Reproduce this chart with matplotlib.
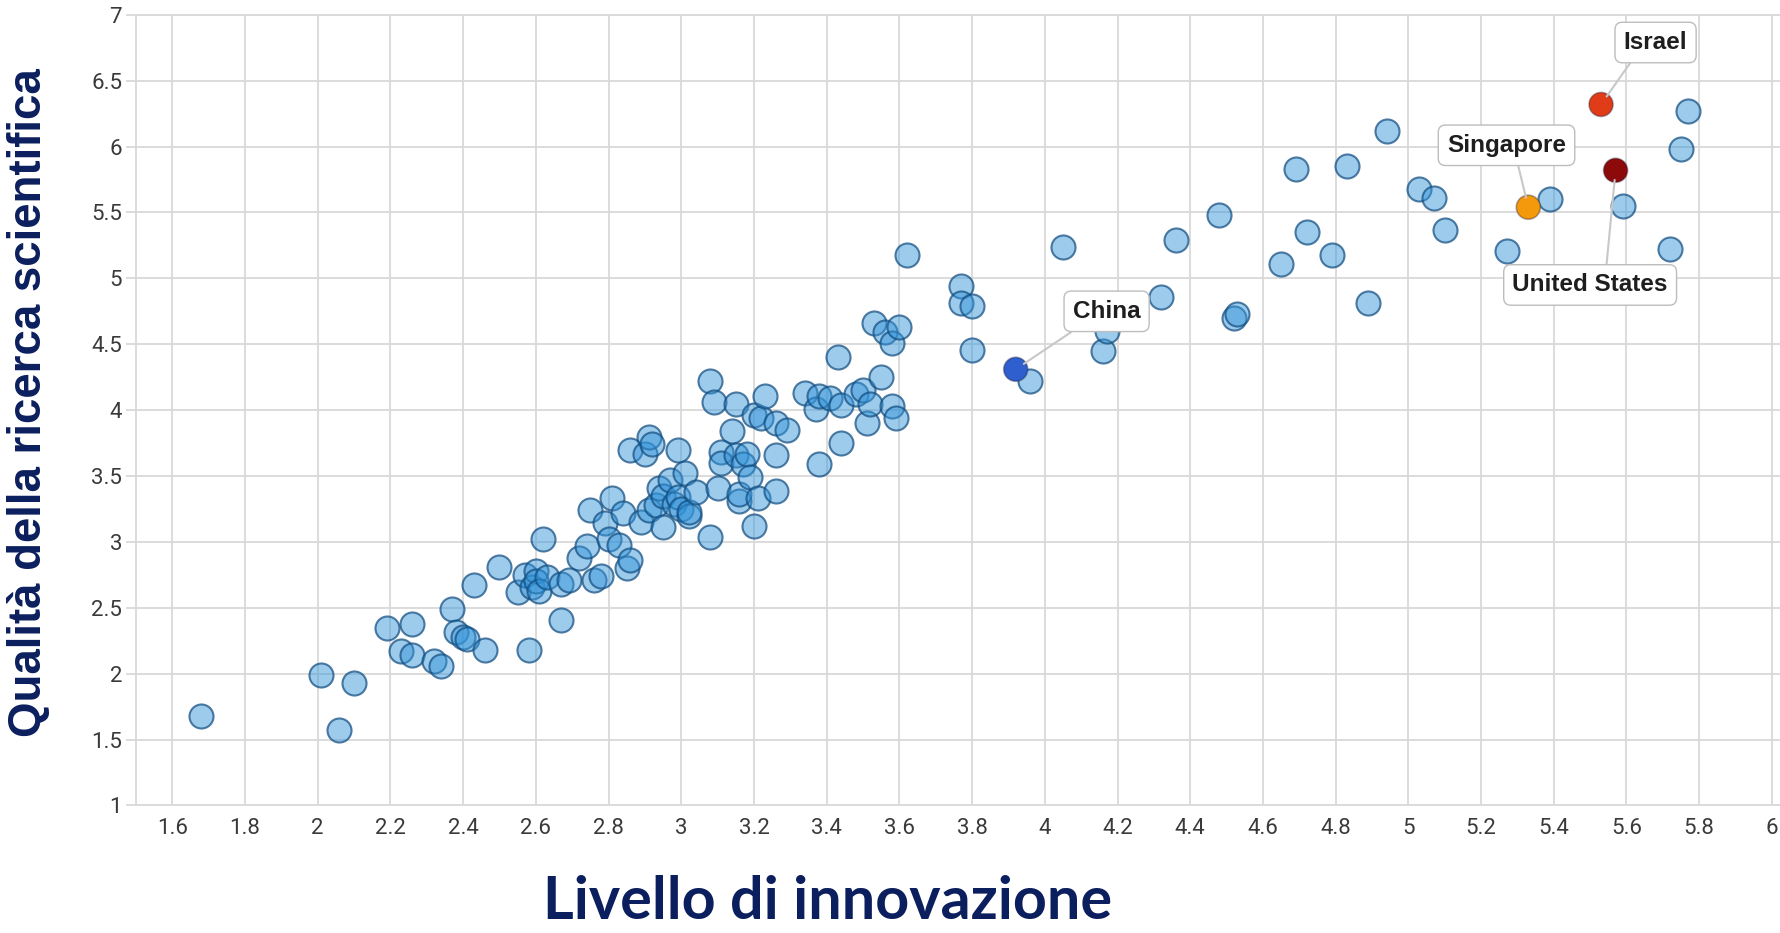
import matplotlib
matplotlib.use("Agg")
import matplotlib.pyplot as plt
from matplotlib import font_manager as fm

# ---------------- data ----------------
innovazione = [
    1.68, 2.01, 2.06, 2.10, 2.19, 2.23, 2.26, 2.26, 2.32, 2.34,
    2.37, 2.38, 2.40, 2.41, 2.43, 2.46, 2.50, 2.55, 2.57, 2.58,
    2.59, 2.60, 2.60, 2.61, 2.62, 2.63, 2.67, 2.67, 2.69, 2.72,
    2.74, 2.75, 2.76, 2.78, 2.79, 2.80, 2.81, 2.83, 2.84, 2.85,
    2.86, 2.86, 2.89, 2.90, 2.91, 2.91, 2.92, 2.93, 2.94, 2.95,
    2.95, 2.97, 2.98, 2.99, 2.99, 3.00, 3.01, 3.02, 3.02, 3.04,
    3.08, 3.08, 3.09, 3.10, 3.11, 3.11, 3.14, 3.15, 3.15, 3.16,
    3.16, 3.17, 3.18, 3.19, 3.20, 3.20, 3.21, 3.22, 3.23, 3.26,
    3.26, 3.26, 3.29, 3.34, 3.37, 3.38, 3.38, 3.41, 3.43, 3.44,
    3.44, 3.48, 3.50, 3.51, 3.52, 3.53, 3.55, 3.56, 3.58, 3.58,
    3.59, 3.60, 3.62, 3.77, 3.77, 3.80, 3.80, 3.96, 4.05, 4.16,
    4.17, 4.32, 4.36, 4.48, 4.52, 4.53, 4.65, 4.69, 4.72, 4.79,
    4.83, 4.89, 4.94, 5.03, 5.07, 5.10, 5.27, 5.39, 5.59, 5.72,
    5.75, 5.77,
]
qualita = [
    1.68, 1.99, 1.57, 1.93, 2.35, 2.17, 2.14, 2.38, 2.10, 2.06,
    2.49, 2.32, 2.28, 2.26, 2.67, 2.18, 2.81, 2.62, 2.75, 2.18,
    2.66, 2.78, 2.70, 2.63, 3.02, 2.73, 2.41, 2.68, 2.71, 2.88,
    2.97, 3.24, 2.71, 2.74, 3.14, 3.02, 3.33, 2.98, 3.22, 2.80,
    2.86, 3.70, 3.15, 3.67, 3.80, 3.24, 3.74, 3.28, 3.41, 3.35,
    3.11, 3.47, 3.29, 3.70, 3.34, 3.25, 3.52, 3.20, 3.23, 3.38,
    3.04, 4.22, 4.06, 3.41, 3.68, 3.60, 3.84, 4.05, 3.66, 3.31,
    3.36, 3.59, 3.67, 3.49, 3.96, 3.12, 3.33, 3.94, 4.11, 3.90,
    3.66, 3.39, 3.85, 4.13, 4.01, 3.59, 4.11, 4.09, 4.40, 4.04,
    3.75, 4.12, 4.15, 3.90, 4.05, 4.66, 4.25, 4.59, 4.51, 4.03,
    3.94, 4.63, 5.18, 4.94, 4.81, 4.79, 4.46, 4.22, 5.24, 4.45,
    4.60, 4.86, 5.29, 5.48, 4.70, 4.73, 5.11, 5.83, 5.35, 5.18,
    5.85, 4.81, 6.12, 5.68, 5.61, 5.37, 5.21, 5.60, 5.55, 5.22,
    5.98, 6.27,
]

paesi = ["China", "Singapore", "Israel", "United States"]
paesi_x = [3.92, 5.33, 5.53, 5.57]
paesi_y = [4.31, 5.54, 6.32, 5.82]
paesi_colori = ["#2f5fcf", "#f5990c", "#e03c18", "#8c0a0a"]
etichette_x = [4.17, 5.27, 5.68, 5.50]
etichette_y = [4.75, 6.01, 6.79, 4.95]
etichette_relpos = [(0.18, 0.0), (0.58, 0.0), (0.2, 0.0), (0.6, 1.0)]

x_ticks = [1.6, 1.8, 2.0, 2.2, 2.4, 2.6, 2.8, 3.0, 3.2, 3.4, 3.6, 3.8,
           4.0, 4.2, 4.4, 4.6, 4.8, 5.0, 5.2, 5.4, 5.6, 5.8, 6.0]
x_tick_labels = ["1.6", "1.8", "2", "2.2", "2.4", "2.6", "2.8", "3", "3.2",
                 "3.4", "3.6", "3.8", "4", "4.2", "4.4", "4.6", "4.8", "5",
                 "5.2", "5.4", "5.6", "5.8", "6"]
y_ticks = [1, 1.5, 2, 2.5, 3, 3.5, 4, 4.5, 5, 5.5, 6, 6.5, 7]
y_tick_labels = ["1", "1.5", "2", "2.5", "3", "3.5", "4", "4.5", "5",
                 "5.5", "6", "6.5", "7"]

xlabel = "Livello di innovazione"
ylabel = "Qualità della ricerca scientifica"

# ---------------- fonts ----------------
names = {f.name for f in fm.fontManager.ttflist}
tick_family = ["Liberation Sans Narrow"] if "Liberation Sans Narrow" in names else ["Roboto"]
tick_family = tick_family + ["DejaVu Sans"]

# ---------------- figure ----------------
W, H = 1781, 933
fig = plt.figure(figsize=(W / 100, H / 100), dpi=100)
ax = fig.add_axes([0.0763, 0.1367, 0.9237, 0.8474])
ax.set_xlim(1.5, 6.025)
ax.set_ylim(1, 7)

grid_c = "#d9d9d9"
ax.set_xticks(x_ticks)
ax.set_xticklabels(x_tick_labels)
ax.set_yticks(y_ticks)
ax.set_yticklabels(y_tick_labels)
ax.grid(True, color=grid_c, linewidth=1.3, zorder=0)
ax.set_axisbelow(True)
ax.spines["right"].set_visible(False)
for s in ["left", "top", "bottom"]:
    ax.spines[s].set_color(grid_c)
    ax.spines[s].set_linewidth(1.3)
ax.tick_params(axis="x", length=0, pad=9, labelsize=16, labelcolor="#3a3a3a")
ax.tick_params(axis="y", length=7, width=1.3, color=grid_c, pad=3,
               labelsize=16, labelcolor="#3a3a3a")
for lab in ax.get_xticklabels() + ax.get_yticklabels():
    lab.set_family(tick_family)

ax.scatter(innovazione, qualita, s=300,
           facecolor=(0.2, 0.58, 0.85, 0.48),
           edgecolor=(0.07, 0.30, 0.50, 0.72), linewidth=1.5, zorder=3)

ax.scatter(paesi_x, paesi_y, s=300, c=paesi_colori,
           edgecolor=(0.1, 0.1, 0.2, 0.35), linewidth=1.2, zorder=5)

for nome, px, py, lx, ly, rp in zip(paesi, paesi_x, paesi_y, etichette_x,
                                    etichette_y, etichette_relpos):
    ax.annotate(nome, xy=(px, py), xytext=(lx, ly), textcoords="data",
                ha="center", va="center", fontsize=17.5, fontweight="bold",
                color="#1e1e1e", family=["Liberation Sans", "DejaVu Sans"],
                bbox=dict(boxstyle="round,pad=0.36,rounding_size=0.3",
                          fc="white", ec="#bdbdbd", lw=1.0),
                arrowprops=dict(arrowstyle="-", color="#c8c8c8", lw=1.5,
                                shrinkA=0, shrinkB=7, relpos=rp),
                zorder=6)

navy = "#0b1f5e"
fig.canvas.draw()
rend = fig.canvas.get_renderer()

ty = fig.text(0.0165, 0.568, ylabel, rotation=90, ha="center", va="center",
              fontsize=33, fontweight="bold", color=navy,
              family=["Liberation Sans", "DejaVu Sans"])
bb = ty.get_window_extent(rend)
ty.set_fontsize(33 * 670 / bb.height)

tx = fig.text(0.4645, 0.033, xlabel, ha="center", va="center",
              fontsize=38, fontweight="bold", color=navy,
              family=["Lato", "Open Sans", "DejaVu Sans"])
bb = tx.get_window_extent(rend)
tx.set_fontsize(38 * 568 / bb.width)

fig.savefig("out.png", dpi=100)
